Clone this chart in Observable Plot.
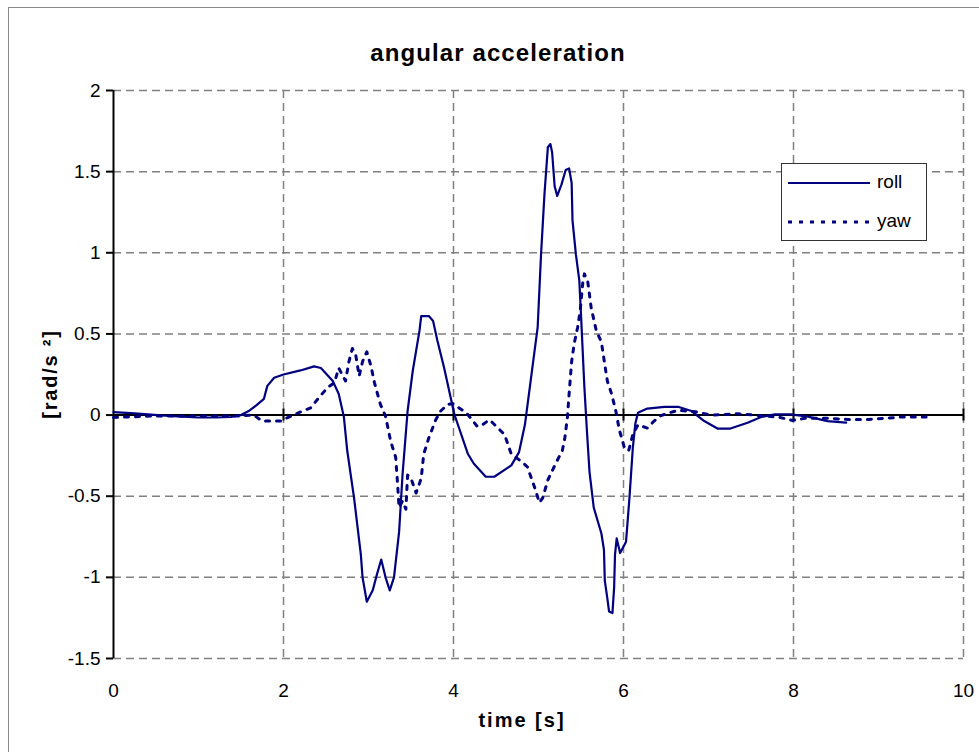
<!DOCTYPE html>
<html>
<head>
<meta charset="utf-8">
<script src="https://cdn.jsdelivr.net/npm/d3@7"></script>
<script src="https://cdn.jsdelivr.net/npm/@observablehq/plot@0.6"></script>
<style>
  html, body { margin: 0; padding: 0; background: #fff; }
  #page { position: relative; width: 979px; height: 752px; overflow: hidden; font-family: "Liberation Sans", Arial, sans-serif; }
  #frame { position: absolute; left: 8px; top: 7px; width: 1000px; height: 800px; border: 1.5px solid #8a8a8a; box-sizing: border-box; }
  #title { position: absolute; left: 0; width: 996px; top: 39px; text-align: center; font-weight: bold; font-size: 24px; letter-spacing: 1.1px; }
  #chart { position: absolute; left: 0; top: 70px; }
  #ylabel { position: absolute; left: 50px; top: 374px; transform: translate(-50%, -50%) rotate(-90deg); font-weight: bold; font-size: 20px; letter-spacing: 1.8px; white-space: nowrap; }
  #xlabel { position: absolute; left: 522px; top: 709px; transform: translateX(-50%); font-weight: bold; font-size: 20px; letter-spacing: 2px; white-space: nowrap; }
  #legend { position: absolute; left: 781px; top: 163px; width: 146px; height: 78px; border: 1px solid #333; background: #fff; box-sizing: border-box; }
  #legend .lab { position: absolute; left: 95px; font-size: 19px; }
</style>
</head>
<body>
<div id="page">
  <div id="frame"></div>
  <div id="title">angular acceleration</div>
  <div id="chart"></div>
  <div id="ylabel">[rad/s ²]</div>
  <div id="xlabel">time [s]</div>
  <div id="legend"></div>
</div>
<script>
// Axis ticks
const xTicks = [0, 2, 4, 6, 8, 10];
const yTicks = [-1.5, -1, -0.5, 0, 0.5, 1, 1.5, 2];

// Series names
const seriesNames = ["roll", "yaw"];

// roll angular acceleration [rad/s²] against time [s]
const rollTime = [0, 0.25, 0.52, 0.75, 1.0, 1.2, 1.38, 1.5, 1.59, 1.68, 1.77, 1.81, 1.89, 2.0, 2.2, 2.36, 2.44,
  2.58, 2.65, 2.71, 2.75, 2.83, 2.91, 2.93, 2.98, 3.05, 3.10, 3.15, 3.20, 3.25, 3.30, 3.36, 3.40, 3.46, 3.52,
  3.60, 3.62, 3.71, 3.76, 3.81, 3.89, 4.01, 4.17, 4.24, 4.38, 4.48, 4.68, 4.77, 4.84, 4.88, 4.93, 4.99, 5.03,
  5.07, 5.11, 5.14, 5.16, 5.19, 5.22, 5.27, 5.32, 5.36, 5.39, 5.40, 5.44, 5.48, 5.50, 5.54, 5.57, 5.60, 5.65,
  5.74, 5.77, 5.78, 5.81, 5.83, 5.87, 5.89, 5.90, 5.92, 5.96, 6.03, 6.07, 6.11, 6.14, 6.17, 6.28, 6.48, 6.65,
  6.80, 6.95, 7.11, 7.25, 7.46, 7.62, 7.78, 7.97, 8.17, 8.40, 8.62];
const rollValue = [0.018, 0.01, 0.0, -0.008, -0.015, -0.015, -0.012, 0.0, 0.025, 0.06, 0.1, 0.18, 0.23, 0.25, 0.275, 0.30, 0.29,
  0.21, 0.13, -0.01, -0.22, -0.51, -0.86, -1.0, -1.15, -1.08, -0.98, -0.89, -1.0, -1.08, -1.0, -0.72, -0.37, 0.025, 0.27,
  0.52, 0.61, 0.61, 0.58, 0.46, 0.29, 0.005, -0.24, -0.30, -0.38, -0.38, -0.31, -0.23, -0.06, 0.1, 0.3, 0.54, 0.99,
  1.36, 1.65, 1.67, 1.62, 1.41, 1.35, 1.42, 1.51, 1.52, 1.43, 1.20, 0.99, 0.83, 0.62, 0.17, -0.1, -0.35, -0.57,
  -0.73, -0.83, -1.02, -1.13, -1.21, -1.22, -1.06, -0.86, -0.76, -0.85, -0.78, -0.51, -0.2, -0.05, 0.015, 0.04, 0.05, 0.05,
  0.025, -0.037, -0.084, -0.084, -0.047, -0.012, 0.004, 0.004, -0.01, -0.037, -0.047];

// yaw angular acceleration [rad/s²] against time [s]
const yawTime = [0, 0.5, 1.0, 1.5, 1.65, 1.75, 1.97, 2.05, 2.18, 2.32, 2.42, 2.52, 2.60, 2.65, 2.73, 2.77, 2.81,
  2.85, 2.89, 2.93, 2.98, 3.03, 3.07, 3.14, 3.20, 3.26, 3.32, 3.34, 3.36, 3.40, 3.44, 3.46, 3.50, 3.56, 3.62,
  3.65, 3.71, 3.79, 3.85, 3.93, 3.99, 4.15, 4.28, 4.34, 4.42, 4.44, 4.60, 4.68, 4.81, 4.87, 4.91, 4.97, 5.01,
  5.05, 5.11, 5.21, 5.28, 5.31, 5.34, 5.36, 5.39, 5.42, 5.46, 5.49, 5.52, 5.54, 5.58, 5.62, 5.68, 5.74, 5.78,
  5.81, 5.86, 5.91, 5.95, 6.01, 6.06, 6.11, 6.17, 6.28, 6.36, 6.44, 6.64, 6.85, 7.03, 7.34, 7.46, 7.66, 7.82,
  7.99, 8.13, 8.40, 8.64, 8.88, 9.07, 9.27, 9.56];
const yawValue = [-0.015, -0.005, -0.005, -0.005, 0.0, -0.037, -0.037, -0.015, 0.015, 0.045, 0.11, 0.17, 0.20, 0.29, 0.21, 0.33, 0.41,
  0.37, 0.24, 0.33, 0.39, 0.30, 0.20, 0.066, -0.006, -0.16, -0.26, -0.41, -0.57, -0.53, -0.58, -0.37, -0.39, -0.48, -0.39,
  -0.24, -0.14, -0.03, 0.025, 0.066, 0.07, 0.015, -0.07, -0.06, -0.03, -0.037, -0.12, -0.24, -0.29, -0.32, -0.38, -0.47, -0.54,
  -0.51, -0.40, -0.29, -0.22, -0.14, -0.015, 0.13, 0.33, 0.44, 0.54, 0.64, 0.81, 0.87, 0.82, 0.66, 0.52, 0.45, 0.31,
  0.21, 0.13, 0.025, -0.09, -0.2, -0.22, -0.12, -0.06, -0.08, -0.037, -0.003, 0.03, 0.02, 0.0, 0.008, 0.004, -0.006, -0.012,
  -0.033, -0.02, -0.02, -0.027, -0.027, -0.02, -0.012, -0.012];

const roll = rollTime.map((t, i) => ({t, v: rollValue[i]}));
const yaw = yawTime.map((t, i) => ({t, v: yawValue[i]}));

const navy = "#000080";
const gridStyle = {stroke: "#808080", strokeOpacity: 1, strokeWidth: 1.5, strokeDasharray: "8,5"};

const chart = Plot.plot({
  width: 979,
  height: 682,
  marginLeft: 113,
  marginRight: 16,
  marginTop: 20,
  marginBottom: 94,
  x: {domain: [0, 10]},
  y: {domain: [-1.5, 2]},
  style: {fontFamily: "'Liberation Sans', Arial, sans-serif", fontSize: "19px", color: "#000", background: "transparent", overflow: "visible"},
  marks: [
    Plot.gridX(xTicks.slice(1), gridStyle),
    Plot.gridY(yTicks, gridStyle),
    Plot.ruleY([0], {stroke: "#000", strokeWidth: 2}),
    Plot.ruleX(xTicks.slice(1), {x: d => d, y1: 0, y2: 0, insetTop: -6, insetBottom: -6, stroke: "#000", strokeWidth: 2}),
    Plot.ruleX([0], {stroke: "#000", strokeWidth: 2}),
    Plot.axisY(yTicks, {tickSize: 7, tickPadding: 6, tickFormat: d => String(d), label: null, stroke: "#000", strokeWidth: 2, strokeOpacity: 1}),
    Plot.axisX(xTicks, {tickSize: 0, tickPadding: 25, tickFormat: d => String(d), label: null}),
    Plot.line(yaw, {x: "t", y: "v", stroke: navy, strokeWidth: 3, strokeDasharray: "4,7"}),
    Plot.line(roll, {x: "t", y: "v", stroke: navy, strokeWidth: 2.2})
  ]
});
document.getElementById("chart").appendChild(chart);

// Legend: one entry per series
const legend = d3.select("#legend");
const lsvg = legend.append("svg").attr("width", 146).attr("height", 78).style("position", "absolute").style("left", 0).style("top", 0);
const entries = [
  {name: seriesNames[0], y: 19, dash: null, width: 2.2},
  {name: seriesNames[1], y: 58, dash: "4,7", width: 3}
];
entries.forEach(e => {
  lsvg.append("line").attr("x1", 6).attr("x2", 88).attr("y1", e.y).attr("y2", e.y)
    .attr("stroke", navy).attr("stroke-width", e.width).attr("stroke-dasharray", e.dash);
  legend.append("div").attr("class", "lab").style("top", (e.y - 12) + "px").text(e.name);
});
</script>
</body>
</html>
